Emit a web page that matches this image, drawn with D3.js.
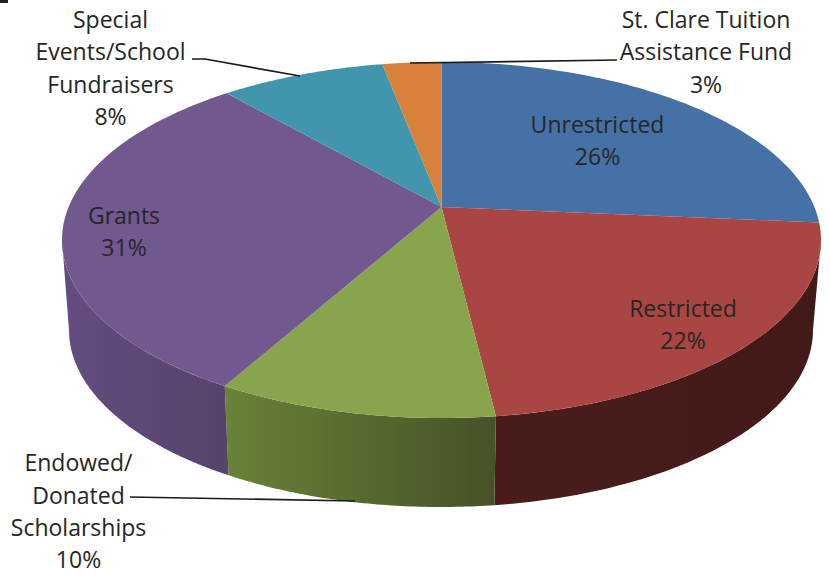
<!DOCTYPE html>
<html><head><meta charset="utf-8">
<script src="https://cdn.jsdelivr.net/npm/d3@7"></script>
<style>html,body{margin:0;background:#fff;overflow:hidden}text{font-family:"Open Sans";font-size:23px;fill:#262626}</style>
</head><body><svg id="c" width="830" height="575"></svg>
<script>
const categories=["Unrestricted","Restricted","Endowed/Donated Scholarships","Grants","Special Events/School Fundraisers","St. Clare Tuition Assistance Fund"];
const values=[26.4,21.7,10,30.5,8.4,3];
const topColors=["#4671a7","#a94543","#88a44c","#71588f","#4196ae","#d8813a"];
const wallStart=["#2a4465","#4a1d1b","#688238","#644c80","#2a6272","#8a5020"];
const wallEnd=["#2a4465","#421a18","#475228","#56436b","#2a6272","#8a5020"];
const labelLines=[["Unrestricted","26%"],["Restricted","22%"],["Endowed/","Donated","Scholarships","10%"],["Grants","31%"],["Special","Events/School","Fundraisers","8%"],["St. Clare Tuition","Assistance Fund","3%"]];
const labelAnchors=[[597.5,133],[683,317],[78.5,471.3],[124,224],[110.5,28],[706,28]];
const leaders=[null,null,[[130,497],[355,501]],null,[[192,59],[205,59],[300,76]],[[617,60],[410,63]]];
const strayMark=[[0,1.5],[8,1.5]];

const svg=d3.select("#c");
const tilt=-0.185;
const x1=d3.scaleLinear().domain([-1,1]).range([62,821]);
const y1=d3.scaleLinear().domain([-1,1]).range([62,418]);
const x2=d3.scaleLinear().domain([-1,1]).range([69,813]);
const y2=d3.scaleLinear().domain([-1,1]).range([153,507]);
const unit=a=>{const u=Math.sin(a),v=-Math.cos(a),w=1+tilt*v;
  return [u*Math.sqrt(1-tilt*tilt)/w,(v+tilt)/w];};
const pTop=a=>{const p=unit(a);return [x1(p[0]),y1(p[1])];};
const pBot=a=>{const p=unit(a);return [x2(p[0]),y2(p[1])];};
const arcs=d3.pie().sort(null).value(d=>d)(values);
const sample=(a,b)=>d3.range(0,61).map(i=>a+(b-a)*i/60);
const line=d3.line();
const defs=svg.append("defs");
const frontMin=Math.acos(tilt), frontMax=2*Math.PI-Math.acos(tilt);
arcs.forEach((d,i)=>{
  const a=Math.max(d.startAngle,frontMin), b=Math.min(d.endAngle,frontMax);
  if(b<=a) return;
  const L=pBot(b)[0], R=pBot(a)[0];
  const g=defs.append("linearGradient").attr("id","w"+i).attr("gradientUnits","userSpaceOnUse")
    .attr("x1",L).attr("x2",R).attr("y1",0).attr("y2",0);
  g.append("stop").attr("offset",0).attr("stop-color",wallStart[i]);
  g.append("stop").attr("offset",1).attr("stop-color",wallEnd[i]);
  const s=sample(a,b);
  svg.append("path").attr("fill",`url(#w${i})`)
    .attr("d",line([...s.map(pTop),...s.slice().reverse().map(pBot)])+"Z");
});
const center=[x1(0),y1(tilt)];
arcs.forEach((d,i)=>{
  svg.append("path").attr("fill",topColors[i])
    .attr("d",line([center,...sample(d.startAngle,d.endAngle).map(pTop)])+"Z");
});
leaders.forEach(l=>{ if(l) svg.append("path").attr("d",line(l)).attr("fill","none").attr("stroke","#1a1a1a").attr("stroke-width",1.7);});
svg.append("path").attr("d",line(strayMark)).attr("stroke","#222").attr("stroke-width",3);
labelLines.forEach((ls,i)=>{
  const t=svg.append("text").attr("text-anchor","middle");
  ls.forEach((s,j)=>t.append("tspan").attr("x",labelAnchors[i][0]).attr("y",labelAnchors[i][1]+j*32.3).text(s));
});
</script></body></html>
